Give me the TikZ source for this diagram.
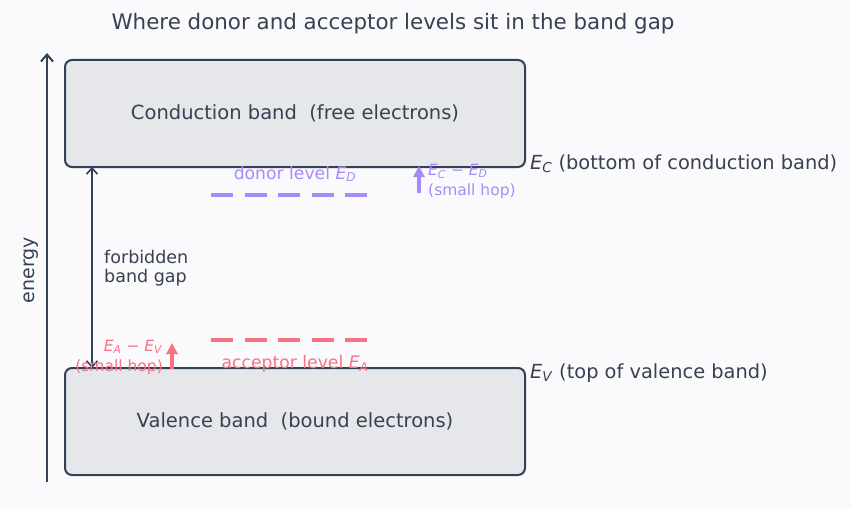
\documentclass[tikz,border=0pt]{standalone}
\usepackage{fontspec}
\setmainfont{DejaVu Sans}
\usetikzlibrary{arrows.meta}
\definecolor{bg}{HTML}{FAFAFD}
\definecolor{ink}{HTML}{374151}
\definecolor{edge}{HTML}{334155}
\definecolor{boxfill}{HTML}{E5E7EB}
\definecolor{donor}{HTML}{A78BFA}
\definecolor{acc}{HTML}{F87185}
\newcommand{\ev}[1]{\textit{E}\textsubscript{\textit{#1}}}
\tikzset{
  band/.style={draw=edge, fill=boxfill, line width=2pt, rounded corners=7pt, minimum width=460pt, minimum height=107pt, text=ink, font=\fontsize{19.5}{22}\selectfont},
  lbl/.style={text=ink, font=\fontsize{19.4}{22}\selectfont, inner sep=0pt},
  lvl/.style={line width=4pt, dash pattern=on 22pt off 11.5pt},
  small/.style={font=\fontsize{15.5}{20}\selectfont, inner sep=0pt, align=left},
  mid/.style={font=\fontsize{17.2}{20}\selectfont, inner sep=0pt},
  axisarrow/.style={line width=2pt, -{Straight Barb[length=7pt,width=12pt,line width=2pt]}},
  gaparrow/.style={line width=1.6pt, {Straight Barb[length=6pt,width=11pt,line width=1.6pt]}-{Straight Barb[length=6pt,width=11pt,line width=1.6pt]}},
  hop/.style={line width=3.2pt, -{Stealth[length=11pt,width=11pt,inset=0pt]}},
}
\begin{document}
\begin{tikzpicture}[x=1pt,y=-1pt]
\fill[bg] (0,0) rectangle (851,508);
\useasboundingbox (0,0) rectangle (851,508);
\node[text=ink, font=\fontsize{21.4}{24}\selectfont] (title) at (393,24) {Where donor and acceptor levels sit in the band gap};
\node[band] (cb) at (295,113.5) {Conduction band\ \ (free electrons)};
\node[band] (vb) at (295,421.5) {Valence band\ \ (bound electrons)};
% energy axis
\coordinate (e0) at (47,482);
\coordinate (e1) at (47,53);
\draw[edge, axisarrow] (e0) -- (e1);
\node[lbl, rotate=90, font=\fontsize{19}{22}\selectfont] (energy) at (31,270) {energy};
% gap arrow
\coordinate (g0) at (92,167);
\coordinate (g1) at (92,368);
\draw[edge, gaparrow] (g0) -- (g1);
\node[lbl, align=left, anchor=west, font=\fontsize{17.5}{19.5}\selectfont] (gap) at (104,268) {forbidden\\band gap};
% labels EC EV
\node[lbl, anchor=west] (ec) at (530,164) {\ev{C} (bottom of conduction band)};
\node[lbl, anchor=west] (evl) at (530,373) {\ev{V} (top of valence band)};
% donor
\coordinate (d0) at (211,195);
\coordinate (d1) at (367,195);
\draw[donor, lvl] (d0) -- (d1);
\node[mid, text=donor] (dl) at (295,174) {donor level \ev{D}};
\coordinate (da0) at (419,193);
\coordinate (da1) at (419,166);
\draw[donor, hop] (da0) -- (da1);
\node[small, text=donor, anchor=west] (dh) at (428,181) {\ev{C} − \ev{D}\\(small hop)};
% acceptor
\coordinate (a0) at (211,340);
\coordinate (a1) at (367,340);
\draw[acc, lvl] (a0) -- (a1);
\node[mid, text=acc] (al) at (295,364) {acceptor level \ev{A}};
\coordinate (aa0) at (172,369);
\coordinate (aa1) at (172,343);
\draw[acc, hop] (aa0) -- (aa1);
\node[small, text=acc, anchor=east, align=right] (ah) at (163,357) {\ev{A} − \ev{V}\\(small hop)};
\end{tikzpicture}
\end{document}
